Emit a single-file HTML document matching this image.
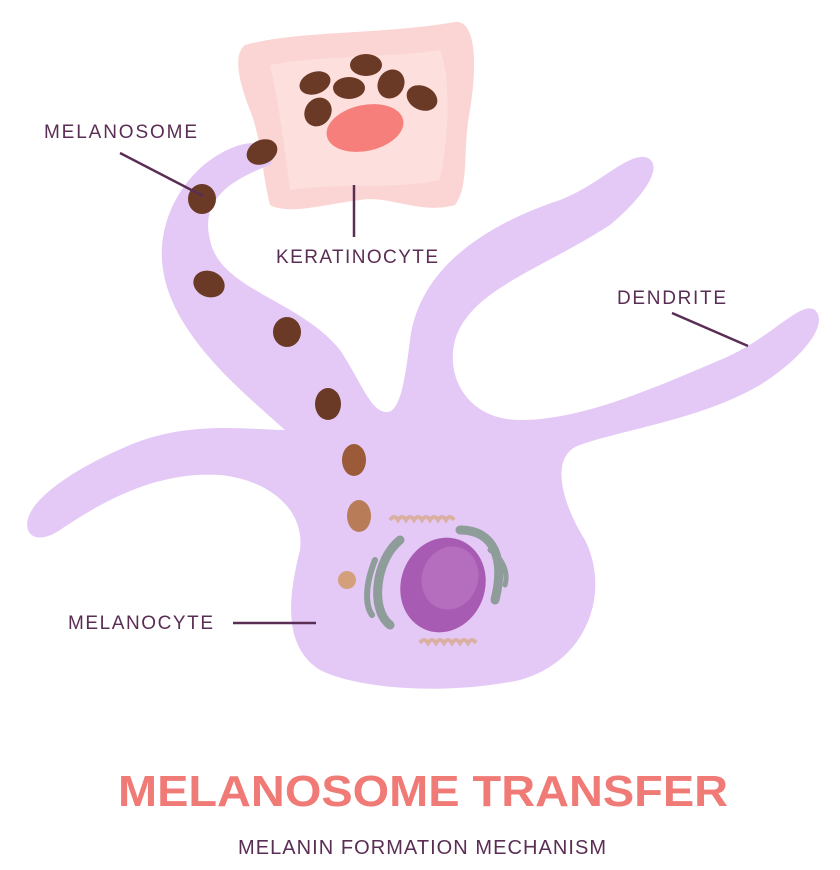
<!DOCTYPE html>
<html><head><meta charset="utf-8"><style>
html,body{margin:0;padding:0;background:#fff;}
svg{display:block;}
text{font-family:"Liberation Sans",sans-serif;}
</style></head><body>
<svg width="840" height="870" viewBox="0 0 840 870" xmlns="http://www.w3.org/2000/svg">
<!-- keratinocyte -->
<path d="M245,45 C300,30 380,35 455,22 C475,20 478,60 470,110 C462,150 470,185 455,205 C420,215 390,195 360,200 C320,205 290,215 270,205 C262,175 262,140 250,110 C240,85 232,55 245,45 Z" fill="#fbd5d3"/>
<path d="M270,65 C320,55 390,58 440,50 C452,80 448,140 440,180 C400,190 340,182 290,190 C285,150 280,110 270,65 Z" fill="#fddfdd"/>
<!-- melanocyte -->
<path d="M28,530 C20,505 70,470 130,445 C190,420 250,430 285,430 C240,390 180,340 165,280 C150,220 190,160 240,145 C265,138 280,150 270,165 C230,180 200,200 210,240 C220,290 300,300 340,350 C360,380 370,410 385,412 C400,415 405,380 410,340 C420,260 500,220 560,200 C600,185 630,150 648,158 C665,168 640,200 610,225 C540,270 470,290 455,340 C445,380 470,420 520,420 C580,420 650,390 720,360 C770,340 800,300 815,310 C830,325 800,360 760,385 C700,420 620,430 580,445 C550,455 560,500 585,540 C610,590 590,660 520,680 C450,695 360,690 320,670 C280,645 290,590 300,550 C305,510 270,480 220,475 C150,470 90,510 60,530 C45,540 32,540 28,530 Z" fill="#e4c9f6"/>
<!-- keratinocyte melanosomes & nucleus -->
<ellipse cx="365" cy="128" rx="39" ry="23" transform="rotate(-12 365 128)" fill="#f67f7b"/>
<g fill="#6b3a26">
<ellipse cx="315" cy="83" rx="16" ry="11" transform="rotate(-20 315 83)"/>
<ellipse cx="366" cy="65" rx="16" ry="11"/>
<ellipse cx="349" cy="88" rx="16" ry="11"/>
<ellipse cx="391" cy="84" rx="13" ry="15" transform="rotate(30 391 84)"/>
<ellipse cx="422" cy="98" rx="16" ry="12" transform="rotate(25 422 98)"/>
<ellipse cx="318" cy="112" rx="13" ry="15" transform="rotate(35 318 112)"/>
<ellipse cx="262" cy="152" rx="16" ry="12" transform="rotate(-25 262 152)"/>
<ellipse cx="202" cy="199" rx="14" ry="15"/>
<ellipse cx="209" cy="284" rx="16" ry="13" transform="rotate(20 209 284)"/>
<ellipse cx="287" cy="332" rx="14" ry="15"/>
<ellipse cx="328" cy="404" rx="13" ry="16"/>
</g>
<ellipse cx="354" cy="460" rx="12" ry="16" fill="#9b5a38"/>
<ellipse cx="359" cy="516" rx="12" ry="16" fill="#b87c58"/>
<circle cx="347" cy="580" r="9" fill="#d4a07c"/>
<!-- nucleus -->
<ellipse cx="443" cy="585" rx="42" ry="48" transform="rotate(20 443 585)" fill="#a85bb2"/>
<ellipse cx="450" cy="578" rx="28" ry="32" transform="rotate(20 450 578)" fill="#b56dbe"/>
<!-- golgi -->
<g fill="none" stroke="#8e9c9a" stroke-linecap="round">
<path d="M400,540 C375,560 370,610 390,625" stroke-width="9"/>
<path d="M375,560 C365,585 365,605 372,615" stroke-width="6"/>
<path d="M460,530 C495,530 505,560 495,600" stroke-width="9"/>
<path d="M490,550 C505,560 508,575 505,585" stroke-width="5"/>
</g>
<g fill="none" stroke="#d9b0a2" stroke-width="4">
<path d="M390,520 q4,-6 8,0 q4,-6 8,0 q4,-6 8,0 q4,-6 8,0 q4,-6 8,0 q4,-6 8,0 q4,-6 8,0 q4,-6 8,0"/>
<path d="M420,643 q4,-6 8,0 q4,-6 8,0 q4,-6 8,0 q4,-6 8,0 q4,-6 8,0 q4,-6 8,0 q4,-6 8,0"/>
</g>
<!-- leader lines -->
<g stroke="#5a2d55" stroke-width="2.5">
<line x1="120" y1="153" x2="203" y2="196"/>
<line x1="354" y1="185" x2="354" y2="237"/>
<line x1="672" y1="313" x2="748" y2="346"/>
<line x1="233" y1="623" x2="316" y2="623"/>
</g>
<g fill="#5a2d55" font-size="19">
<text x="44" y="138" textLength="153" lengthAdjust="spacing">MELANOSOME</text>
<text x="276" y="263" textLength="162" lengthAdjust="spacing">KERATINOCYTE</text>
<text x="617" y="304" textLength="109" lengthAdjust="spacing">DENDRITE</text>
<text x="68" y="629" textLength="145" lengthAdjust="spacing">MELANOCYTE</text>
</g>
<text x="118" y="806" font-size="44" font-weight="bold" fill="#f07a76" textLength="610" lengthAdjust="spacingAndGlyphs">MELANOSOME TRANSFER</text>
<text x="238" y="854" font-size="20" fill="#5a2d55" textLength="368" lengthAdjust="spacing">MELANIN FORMATION MECHANISM</text>
</svg>
</body></html>
